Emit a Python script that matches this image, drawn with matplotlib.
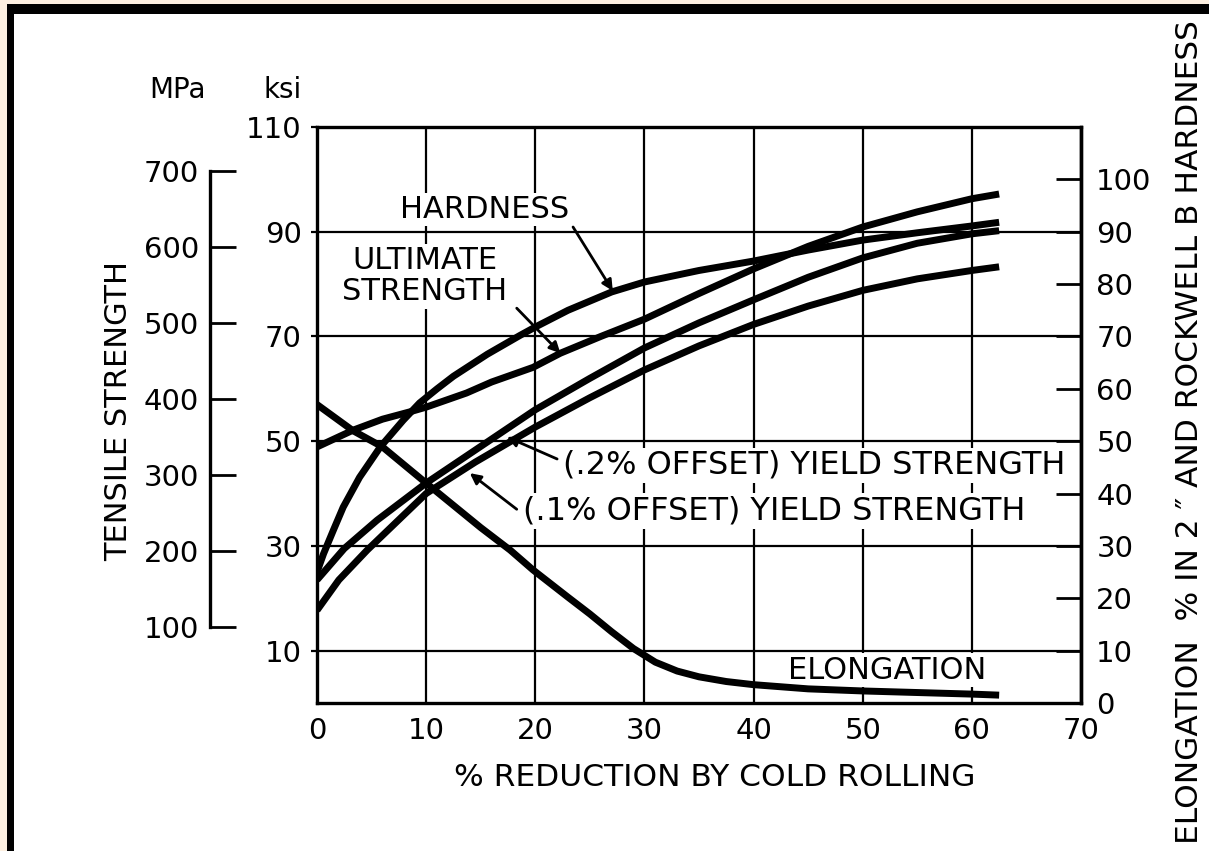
import matplotlib
matplotlib.use('Agg')
import matplotlib.pyplot as plt
from matplotlib.patches import Rectangle

# % reduction by cold rolling (x) and values
hard_x = [0, 0.6, 1.5, 2.4, 3.9, 5.8, 7.9, 9.4, 11, 12.5, 15.6, 18.6, 20, 23, 27, 30, 35, 40, 45, 50, 55, 60, 62.5]
hard_y = [25, 28.5, 33, 37.4, 43.1, 48.9, 54, 57.3, 60, 62.4, 66.6, 70.2, 71.8, 75, 78.5, 80.4, 82.6, 84.4, 86.5, 88.4, 89.8, 91.1, 91.8]

ult_x = [0, 3.3, 6, 8.5, 10, 13.7, 16, 19.8, 22.3, 26, 30, 35, 40, 45, 50, 55, 60, 62.5]
ult_y = [48.9, 52.1, 54.2, 55.6, 56.5, 59.2, 61.3, 64.1, 66.8, 70, 73.3, 78.2, 82.9, 87.2, 90.9, 93.8, 96.3, 97.2]

y02_x = [0, 2.5, 5.5, 10, 14.5, 20, 25, 30, 35, 40, 45, 50, 55, 60, 62.5]
y02_y = [23.5, 29.5, 34.9, 42, 48.3, 56, 62, 67.8, 72.6, 77, 81.3, 85, 87.8, 89.6, 90.2]

y01_x = [0, 2, 4.6, 10, 14.5, 20, 25, 30, 35, 40, 45, 50, 55, 60, 62.5]
y01_y = [17.7, 23.5, 29.2, 40, 46, 52.7, 58.3, 63.6, 68.2, 72.3, 75.8, 78.8, 81, 82.6, 83.3]

elong_x = [0, 3.3, 6, 10, 15, 17.7, 19.8, 23, 25, 27, 29, 31, 33, 35, 37.5, 40, 45, 50, 55, 60, 62.5]
elong_y = [57, 52, 48.9, 42, 33.5, 29.2, 25.4, 20.2, 17, 13.6, 10.4, 7.8, 6.1, 5, 4.1, 3.5, 2.7, 2.3, 2, 1.7, 1.5]

x_ticks = [0, 10, 20, 30, 40, 50, 60, 70]
ksi_ticks = [10, 30, 50, 70, 90, 110]
mpa_ticks = [100, 200, 300, 400, 500, 600, 700]
right_ticks = [0, 10, 20, 30, 40, 50, 60, 70, 80, 90, 100]
KSI_TO_MPA = 6.895

W, H = 1209, 851
plt.rcParams['font.family'] = ['DejaVu Sans']

fig = plt.figure(figsize=(W / 100, H / 100), dpi=100)
fig.patch.set_facecolor('#fdf0e1')
# scanned page frame
fig.patches.append(Rectangle((7 / W, 0), 1, 1 - 4 / H, transform=fig.transFigure,
                             facecolor='black', edgecolor='none', zorder=-2))
fig.patches.append(Rectangle((14 / W, 0), 1, 1 - 14 / H, transform=fig.transFigure,
                             facecolor='white', edgecolor='none', zorder=-1))


def fx(px):
    return px / W


def fy(py):
    return 1 - py / H


ax = fig.add_axes([fx(317), fy(703), (1081 - 317) / W, (703 - 127) / H])
ax.set_facecolor('none')
ax.set_xlim(0, 70)
ax.set_ylim(0, 110)
ax.set_xticks(x_ticks)
ax.set_yticks(ksi_ticks)
ax.grid(True, color='black', lw=1.6)
ax.set_axisbelow(True)
for s in ax.spines.values():
    s.set_linewidth(2.4)
ax.tick_params(axis='x', length=0, pad=10, labelsize=21)
ax.tick_params(axis='y', direction='out', length=4, width=1.6, pad=7, labelsize=21)

lw = 5
for xs, ys in [(hard_x, hard_y), (ult_x, ult_y), (y02_x, y02_y), (y01_x, y01_y), (elong_x, elong_y)]:
    ax.plot(xs, ys, color='black', lw=lw, solid_capstyle='butt', solid_joinstyle='round', zorder=4)

box = dict(facecolor='white', edgecolor='none', pad=1.5)
ax.text(15.39, 94.3, 'HARDNESS', fontsize=22, ha='center', va='center', bbox=box, zorder=3)
ax.text(9.9, 81.5, 'ULTIMATE\nSTRENGTH', fontsize=22, ha='center', va='center',
        linespacing=1.1, bbox=box, zorder=3)
ax.text(22.54, 45.4, '(.2% OFFSET) YIELD STRENGTH', fontsize=23, ha='left', va='center',
        bbox=box, zorder=3)
ax.text(18.87, 36.7, '(.1% OFFSET) YIELD STRENGTH', fontsize=23, ha='left', va='center',
        bbox=box, zorder=3)
ax.text(52.2, 6.3, 'ELONGATION', fontsize=22, ha='center', va='center', bbox=box, zorder=3)

arrow = dict(arrowstyle='-|>', lw=2, color='black', mutation_scale=16, shrinkA=0, shrinkB=0)
ax.annotate('', xy=(27.1, 78.7), xytext=(23.46, 90.9), arrowprops=arrow, zorder=5)
ax.annotate('', xy=(22.3, 66.8), xytext=(18.3, 75.4), arrowprops=arrow, zorder=5)
ax.annotate('', xy=(17.4, 50.8), xytext=(22.0, 46.6), arrowprops=arrow, zorder=5)
ax.annotate('', xy=(14.0, 43.9), xytext=(18.3, 37.0), arrowprops=arrow, zorder=5)

# MPa scale on the far left
ax_m = ax.twinx()
ax_m.set_ylim(0, 110 * KSI_TO_MPA)
ax_m.set_yticks(mpa_ticks)
for side in ['right', 'top', 'bottom']:
    ax_m.spines[side].set_visible(False)
ax_m.spines['left'].set_visible(True)
ax_m.spines['left'].set_position(('axes', (210 - 317) / (1081 - 317)))
ax_m.spines['left'].set_bounds(100, 700)
ax_m.spines['left'].set_linewidth(2.4)
ax_m.yaxis.tick_left()
ax_m.tick_params(axis='y', direction='in', length=19, width=2, pad=8, labelsize=21)

# elongation / Rockwell B scale on the right
ax_r = ax.twinx()
ax_r.set_ylim(0, 110)
ax_r.set_yticks(right_ticks)
for side in ['left', 'top', 'bottom']:
    ax_r.spines[side].set_visible(False)
ax_r.spines['right'].set_linewidth(2.4)
ax_r.tick_params(axis='y', direction='in', length=18, width=2, pad=11, labelsize=21)

fig.text(fx(178), fy(90), 'MPa', fontsize=20, ha='center', va='center')
fig.text(fx(283), fy(90), 'ksi', fontsize=20, ha='center', va='center')
fig.text(fx(119), fy(411), 'TENSILE STRENGTH', fontsize=22, rotation=90, ha='center', va='center')
fig.text(fx(1189), fy(432), 'ELONGATION  % IN 2 \u2033 AND ROCKWELL B HARDNESS', fontsize=22.5,
         rotation=90, ha='center', va='center')
fig.text(fx(715), fy(778), '% REDUCTION BY COLD ROLLING', fontsize=22.5, ha='center', va='center')

fig.savefig('out.png', dpi=100, facecolor=fig.get_facecolor())
